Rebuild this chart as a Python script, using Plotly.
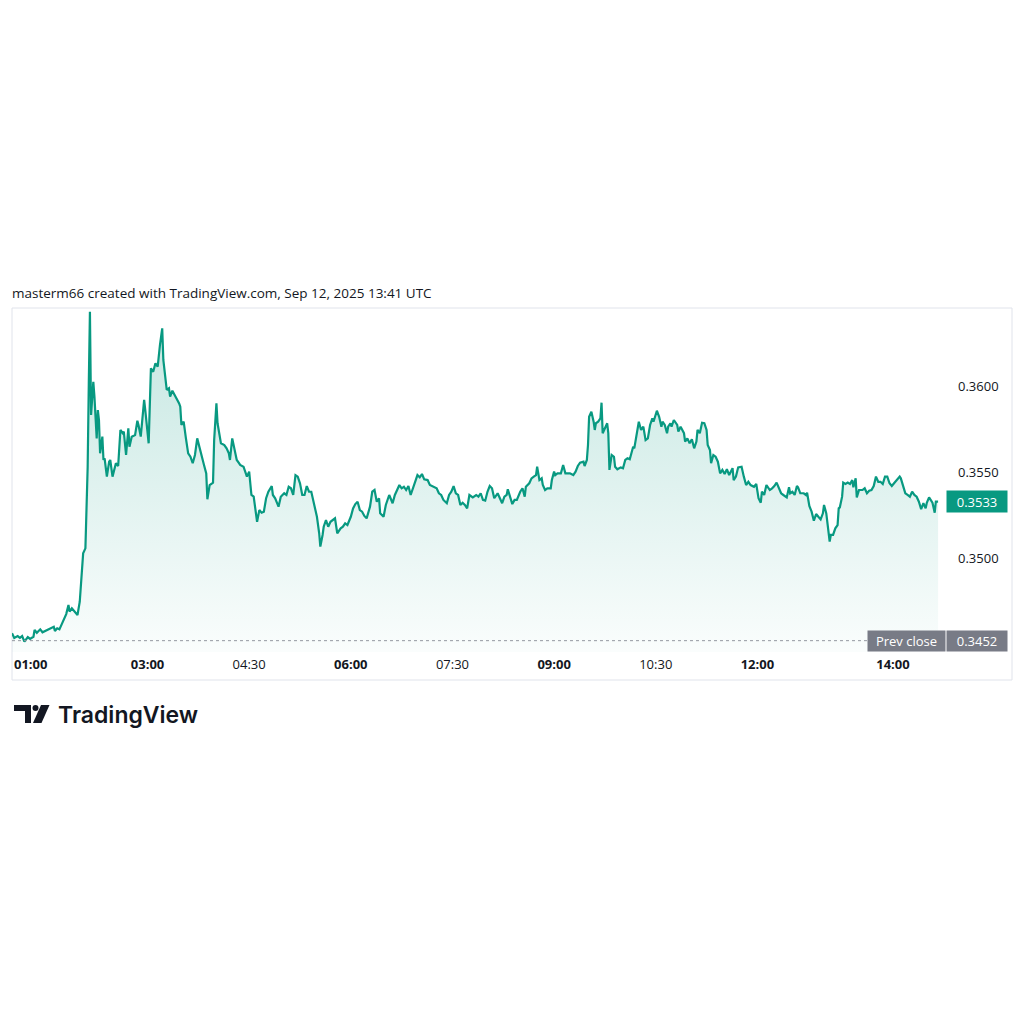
import plotly.graph_objects as go
import pandas as pd

# ---------------- data ----------------
session_start = "2025-09-12 01:00"
minutes_after_start = [
    0, 2, 5, 7, 9, 11, 14, 16, 19, 20,
    22, 25, 27, 31, 34, 37, 38, 40, 42, 45,
    47, 48, 50, 51, 53, 55, 58, 60, 61, 63,
    65, 67, 68, 69, 70, 72, 73, 75, 76, 77,
    78, 80, 81, 82, 84, 86, 87, 89, 92, 94,
    96, 98, 99, 101, 103, 104, 106, 109, 111, 112,
    114, 117, 118, 121, 123, 125, 127, 129, 131, 132,
    133, 134, 136, 137, 139, 140, 142, 144, 146, 148,
    149, 150, 152, 153, 154, 156, 158, 160, 162, 164,
    165, 168, 170, 172, 173, 175, 178, 179, 181, 182,
    183, 185, 188, 190, 192, 193, 195, 197, 199, 201,
    202, 205, 208, 210, 211, 212, 214, 217, 219, 221,
    223, 225, 227, 230, 231, 233, 236, 238, 241, 243,
    245, 247, 249, 251, 253, 255, 257, 259, 261, 263,
    265, 267, 270, 272, 273, 275, 276, 278, 280, 282,
    284, 286, 288, 291, 293, 295, 297, 300, 302, 304,
    306, 308, 310, 312, 314, 317, 319, 321, 323, 325,
    326, 329, 331, 333, 334, 337, 339, 341, 343, 345,
    347, 349, 351, 353, 355, 357, 359, 361, 363, 365,
    368, 370, 373, 376, 378, 380, 382, 385, 387, 389,
    391, 393, 395, 397, 399, 401, 403,
    405, 408, 411, 413, 415, 417, 419, 421, 423, 425,
    427, 430, 432, 434, 436, 438, 439, 441, 443, 445,
    447, 450, 452, 454, 455, 458, 460, 462, 464, 465,
    467, 469, 470, 472, 474, 477, 478, 480, 481, 483,
    486, 488, 490, 492, 494, 497, 499, 501, 503, 506,
    507, 509, 510, 511, 513, 515, 516, 517, 519, 521,
    522, 523, 525, 527, 528, 529, 531, 533, 534, 536,
    539, 541, 543, 545, 547, 550, 551, 553, 555, 557,
    559, 561, 563, 565, 567, 568, 570, 571, 573, 575,
    576, 578, 580, 581, 583, 584, 586, 589, 590, 592,
    595, 596, 598, 600, 602, 604, 606, 607, 609,
    611, 613, 615, 616, 618, 619, 621, 623, 625, 627,
    629, 631, 633, 635, 638, 639, 641, 643, 646, 648,
    650, 652, 654, 657, 659, 661, 663, 664, 666, 668,
    671, 673, 675, 677, 679, 681, 683, 686, 688, 689,
    691, 693, 695, 696, 698, 701, 703, 704, 706, 708,
    710, 712, 714, 716, 718, 719, 721, 723, 724, 725,
    727, 729, 731, 732, 733, 735, 736, 738, 740, 742,
    744, 745, 747, 748, 750, 753, 755, 757, 759, 761,
    763, 765, 767, 769, 771, 773, 775, 777, 779, 781,
    784, 786, 787, 789, 791, 793, 795, 797, 799, 801,
    803, 805, 807, 809, 810, 812, 814, 815, 817, 818,
    820,
]
prices = [
    0.34563, 0.34536, 0.34547, 0.34536, 0.34547, 0.34514, 0.34541, 0.34530, 0.34543, 0.34582,
    0.34566, 0.34586, 0.34569, 0.34582, 0.34592, 0.34601, 0.34576, 0.34592, 0.34586, 0.34631,
    0.34670, 0.34675, 0.34728, 0.34689, 0.34709, 0.34695, 0.34670, 0.34747, 0.34854, 0.35029,
    0.35058, 0.35534, 0.36020, 0.36437, 0.35835, 0.36029, 0.35942, 0.35699, 0.35864, 0.35806,
    0.35612, 0.35709, 0.35573, 0.35583, 0.35476, 0.35563, 0.35573, 0.35476, 0.35554, 0.35538,
    0.35748, 0.35729, 0.35738, 0.35602, 0.35758, 0.35650, 0.35709, 0.35719, 0.35802, 0.35777,
    0.35709, 0.35923, 0.35864, 0.35670, 0.36107, 0.36087, 0.36136, 0.36117, 0.36243, 0.36291,
    0.36340, 0.36156, 0.36010, 0.35981, 0.35991, 0.35942, 0.35977, 0.35952, 0.35932, 0.35903,
    0.35884, 0.35777, 0.35796, 0.35738, 0.35699, 0.35612, 0.35592, 0.35554, 0.35602, 0.35699,
    0.35670, 0.35583, 0.35544, 0.35495, 0.35344, 0.35427, 0.35441, 0.35689, 0.35903, 0.35787,
    0.35738, 0.35670, 0.35660, 0.35641, 0.35612, 0.35573, 0.35699, 0.35631, 0.35573, 0.35554,
    0.35544, 0.35534, 0.35476, 0.35505, 0.35437, 0.35369, 0.35359, 0.35213, 0.35281, 0.35266,
    0.35272, 0.35350, 0.35388, 0.35421, 0.35369, 0.35350, 0.35301, 0.35359, 0.35379, 0.35369,
    0.35417, 0.35408, 0.35369, 0.35485, 0.35476, 0.35437, 0.35369, 0.35369, 0.35421, 0.35388,
    0.35388, 0.35321, 0.35242, 0.35146, 0.35068, 0.35136, 0.35184, 0.35223, 0.35184, 0.35213,
    0.35223, 0.35233, 0.35146, 0.35175, 0.35184, 0.35204, 0.35194, 0.35242, 0.35291, 0.35316,
    0.35330, 0.35281, 0.35272, 0.35247, 0.35233, 0.35301, 0.35388, 0.35398, 0.35330, 0.35350,
    0.35262, 0.35242, 0.35311, 0.35350, 0.35369, 0.35321, 0.35369, 0.35398, 0.35427, 0.35408,
    0.35417, 0.35398, 0.35421, 0.35369, 0.35408, 0.35456, 0.35485, 0.35472, 0.35491, 0.35460,
    0.35456, 0.35427, 0.35417, 0.35408, 0.35379, 0.35369, 0.35340, 0.35321, 0.35369, 0.35388,
    0.35421, 0.35379, 0.35369, 0.35311, 0.35324, 0.35311, 0.35291,
    0.35369, 0.35355, 0.35369, 0.35359, 0.35379, 0.35340, 0.35336, 0.35388, 0.35421, 0.35408,
    0.35350, 0.35379, 0.35350, 0.35321, 0.35359, 0.35369, 0.35402, 0.35359, 0.35316, 0.35340,
    0.35340, 0.35388, 0.35408, 0.35359, 0.35417, 0.35437, 0.35466, 0.35476, 0.35485, 0.35534,
    0.35456, 0.35466, 0.35427, 0.35398, 0.35408, 0.35408, 0.35456, 0.35505, 0.35485, 0.35495,
    0.35495, 0.35544, 0.35495, 0.35495, 0.35495, 0.35485, 0.35505, 0.35538, 0.35557, 0.35563,
    0.35538, 0.35573, 0.35660, 0.35825, 0.35854, 0.35796, 0.35748, 0.35787, 0.35796, 0.35816,
    0.35907, 0.35729, 0.35758, 0.35787, 0.35729, 0.35515, 0.35602, 0.35592, 0.35534, 0.35519,
    0.35530, 0.35525, 0.35573, 0.35583, 0.35577, 0.35650, 0.35641, 0.35719, 0.35796, 0.35748,
    0.35767, 0.35689, 0.35699, 0.35777, 0.35816, 0.35796, 0.35835, 0.35860, 0.35825, 0.35767,
    0.35796, 0.35777, 0.35729, 0.35767, 0.35787, 0.35767, 0.35806, 0.35777, 0.35738, 0.35767,
    0.35729, 0.35680, 0.35699, 0.35670, 0.35694, 0.35641, 0.35680, 0.35748, 0.35729,
    0.35790, 0.35787, 0.35748, 0.35660, 0.35631, 0.35554, 0.35602, 0.35592, 0.35563, 0.35495,
    0.35515, 0.35491, 0.35519, 0.35485, 0.35525, 0.35456, 0.35476, 0.35530, 0.35534, 0.35476,
    0.35427, 0.35446, 0.35427, 0.35417, 0.35433, 0.35350, 0.35324, 0.35388, 0.35369, 0.35427,
    0.35398, 0.35408, 0.35421, 0.35441, 0.35408, 0.35379, 0.35369, 0.35355, 0.35414, 0.35379,
    0.35388, 0.35369, 0.35421, 0.35414, 0.35379, 0.35379, 0.35369, 0.35382, 0.35305, 0.35272,
    0.35219, 0.35258, 0.35242, 0.35227, 0.35262, 0.35311, 0.35262, 0.35165, 0.35097, 0.35136,
    0.35136, 0.35175, 0.35194, 0.35291, 0.35297, 0.35359, 0.35441, 0.35433, 0.35441, 0.35433,
    0.35456, 0.35414, 0.35466, 0.35355, 0.35398, 0.35398, 0.35408, 0.35379, 0.35394, 0.35398,
    0.35421, 0.35476, 0.35446, 0.35446, 0.35433, 0.35476, 0.35476, 0.35437, 0.35421, 0.35437,
    0.35460, 0.35476, 0.35466, 0.35417, 0.35379, 0.35369, 0.35359, 0.35388, 0.35369, 0.35359,
    0.35330, 0.35286, 0.35321, 0.35291, 0.35324, 0.35355, 0.35330, 0.35324, 0.35266, 0.35330,
    0.35330,
]
assert len(minutes_after_start) == len(prices), (len(minutes_after_start), len(prices))

last_price = 0.3533
prev_close = 0.3452
price_ticks = [0.3500, 0.3550, 0.3600]
price_tick_labels = ["0.3500", "0.3550", "0.3600"]
time_ticks = ["03:00", "04:30", "06:00", "07:30", "09:00", "10:30", "12:00", "14:00"]
first_time_label = "01:00"
header = "masterm66 created with TradingView.com, Sep 12, 2025 13:41 UTC"

# ---------------- layout constants ----------------
W = H = 1024
PL, PR, PT, PB = 12, 946, 308, 652
FONT = "Open Sans"
TXT = "#131722"
GREEN = "#089981"
GREY = "#787b86"
y_range = [0.34454, 0.364587]
t0 = pd.Timestamp(session_start)
x_range = [t0, t0 + pd.Timedelta(minutes=827)]


def fx(p):
    return (p - PL) / (PR - PL)


def fy(p):
    return (PB - p) / (PB - PT)


times = t0 + pd.to_timedelta(minutes_after_start, unit="min")
day = t0.strftime("%Y-%m-%d")
tick_dates = [pd.Timestamp(f"{day} {t}") for t in time_ticks]
tick_text = [f"<b>{t}</b>" if t.endswith(":00") else t for t in time_ticks]

fig = go.Figure()
fig.add_trace(go.Scatter(
    x=times, y=prices, mode="lines",
    line=dict(color=GREEN, width=2.2),
    fill="tozeroy",
    fillgradient=dict(type="vertical",
                      colorscale=[[0, "rgba(8,153,129,0.02)"], [1, "rgba(8,153,129,0.24)"]],
                      start=y_range[0], stop=y_range[1]),
    hoverinfo="skip", showlegend=False,
))

shapes = [
    # chart frame
    dict(type="rect", xref="paper", yref="paper", x0=fx(12), x1=fx(1012), y0=fy(680), y1=fy(308),
         line=dict(color="#e0e3eb", width=1), fillcolor="rgba(0,0,0,0)", layer="below"),
    # prev close dotted line
    dict(type="line", xref="paper", yref="y", x0=0, x1=fx(867), y0=prev_close, y1=prev_close,
         line=dict(color="#9598a1", width=1, dash="dot")),
    # TradingView logo mark
    dict(type="rect", xref="paper", yref="paper", x0=fx(14), x1=fx(31), y0=fy(711), y1=fy(705),
         line=dict(width=0), fillcolor=TXT),
    dict(type="rect", xref="paper", yref="paper", x0=fx(25), x1=fx(31), y0=fy(723), y1=fy(705),
         line=dict(width=0), fillcolor=TXT),
    dict(type="circle", xref="paper", yref="paper", x0=fx(32.5), x1=fx(38.5), y0=fy(711), y1=fy(705),
         line=dict(width=0), fillcolor=TXT),
    dict(type="path", xref="paper", yref="paper",
         path=f"M {fx(41)} {fy(705)} L {fx(49.5)} {fy(705)} L {fx(41.5)} {fy(723)} L {fx(33)} {fy(723)} Z",
         line=dict(width=0), fillcolor=TXT),
]

annotations = [
    dict(text=f"<b>{first_time_label}</b>", xref="x", yref="paper", x=t0, y=fy(664),
         xanchor="left", yanchor="middle", showarrow=False,
         font=dict(family=FONT, size=13, color=TXT)),
    dict(text=f"{last_price:.4f}", xref="paper", yref="y", x=fx(946), y=last_price,
         xanchor="left", yanchor="middle", showarrow=False, bgcolor=GREEN,
         width=60, height=21, borderpad=0, align="center",
         font=dict(family=FONT, size=13, color="white")),
    dict(text="Prev close", xref="paper", yref="y", x=fx(867), y=prev_close,
         xanchor="left", yanchor="middle", showarrow=False, bgcolor=GREY,
         width=77, height=20, borderpad=0, align="center",
         font=dict(family=FONT, size=13, color="white")),
    dict(text=f"{prev_close:.4f}", xref="paper", yref="y", x=fx(946), y=prev_close,
         xanchor="left", yanchor="middle", showarrow=False, bgcolor=GREY,
         width=60, height=20, borderpad=0, align="center",
         font=dict(family=FONT, size=13, color="white")),
    dict(text="TradingView", xref="paper", yref="paper", x=fx(56), y=fy(715),
         xanchor="left", yanchor="middle", showarrow=False,
         font=dict(family="Inter", size=23, color=TXT, weight=600)),
]

fig.update_layout(
    width=W, height=H,
    margin=dict(l=PL, r=W - PR, t=PT, b=H - PB),
    paper_bgcolor="white", plot_bgcolor="white",
    title=dict(text=header, xref="container", yref="container", x=12 / W, y=1 - 293 / H,
               xanchor="left", yanchor="middle",
               font=dict(family=FONT, size=13.5, color=TXT)),
    xaxis=dict(type="date", range=x_range, tickvals=tick_dates, ticktext=tick_text,
               showgrid=False, zeroline=False, showline=False, ticks="",
               ticklabelstandoff=3,
               tickfont=dict(family=FONT, size=13, color=TXT), fixedrange=True),
    yaxis=dict(side="right", range=y_range, tickvals=price_ticks, ticktext=price_tick_labels,
               showgrid=False, zeroline=False, showline=False, ticks="",
               ticklabelstandoff=11,
               tickfont=dict(family=FONT, size=13, color=TXT), fixedrange=True),
    shapes=shapes, annotations=annotations,
    hovermode=False, showlegend=False,
)

fig.write_html("out.html", config={"displayModeBar": False})
